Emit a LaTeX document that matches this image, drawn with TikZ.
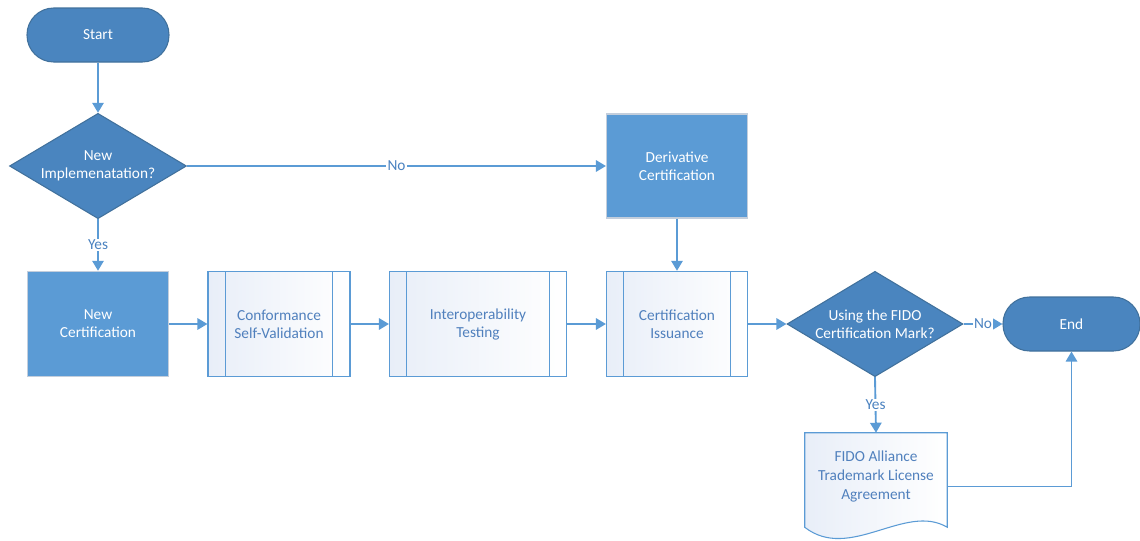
\documentclass[tikz,border=0pt]{standalone}
\usepackage{fontspec}
\setmainfont{Carlito}
\usetikzlibrary{shapes.geometric,arrows.meta,calc}
\definecolor{linec}{HTML}{5B9BD5}
\definecolor{darkfill}{HTML}{4A85BF}
\definecolor{darkbord}{HTML}{41719C}
\definecolor{procfill}{HTML}{5B9BD5}
\definecolor{procbord}{HTML}{C3CEDC}
\definecolor{subbord}{HTML}{5B9BD5}
\definecolor{subtext}{HTML}{5080BD}
\definecolor{lblc}{HTML}{4A82C0}
\definecolor{shadec}{HTML}{E8EEF8}
\tikzset{
  base/.style={font=\fontsize{11.5}{13.5}\selectfont, align=center, inner sep=0pt},
  term/.style={base, rectangle, rounded corners=20pt, draw=darkbord, line width=0.8pt,
    fill=darkfill, text=white, minimum height=40.5pt},
  dec/.style={diamond, draw=darkbord, line width=0.8pt, fill=darkfill, inner sep=0pt,
    minimum width=132.75pt, minimum height=79pt, shape aspect=1.69},
  dectext/.style={base, text=white},
  proc/.style={base, rectangle, draw=procbord, line width=0.8pt, fill=procfill, text=white,
    minimum width=105.75pt, minimum height=79pt},
  sub/.style={base, rectangle, draw=subbord, line width=0.8pt, text=subtext,
    left color=shadec, right color=white, minimum height=79pt,
    path picture={
      \draw[subbord, line width=0.8pt]
        ([xshift=13pt]path picture bounding box.north west) -- ([xshift=13pt]path picture bounding box.south west)
        ([xshift=-13pt]path picture bounding box.north east) -- ([xshift=-13pt]path picture bounding box.south east);
    }},
  conn/.style={draw=linec, line width=1.4pt, -{Triangle[length=7.5pt,width=8.5pt]}},
  lbl/.style={base, fill=white, text=lblc, inner sep=1pt},
}
\begin{document}
\begin{tikzpicture}[x=0.75pt,y=-0.75pt]
\useasboundingbox (0,0) rectangle (1140,540);

% nodes
\node[term, minimum width=106.5pt] (start) at (98,35) {Start};
\node[dec, label={[dectext]center:{New\\Implemenatation?}}] (d1) at (98,166) {};
\node[proc] (newc) at (98,324) {New\\Certification};
\node[sub, minimum width=106.5pt] (conf) at (279,324) {Conformance\\Self-Validation};
\node[sub, minimum width=132.75pt] (inter) at (478,324) {Interoperability\\Testing};
\node[sub, minimum width=105.75pt] (iss) at (677,324) {Certification\\Issuance};
\node[proc, minimum height=78pt] (deriv) at (677,166) {Derivative\\Certification};
\node[dec, minimum width=132pt, label={[dectext]center:{Using the FIDO\\Certification Mark?}}] (d2) at (875,324) {};
\node[term, minimum width=102.75pt] (endn) at (1071.5,324) {End};

% document shape
\node[inner sep=0pt, minimum width=106.5pt, minimum height=80.25pt] (doc) at (876,486.5) {};
\path[draw=subbord, line width=0.8pt, left color=shadec, right color=white]
  ($(doc.south west)+(0,-13)$) -- (doc.north west) -- (doc.north east) -- ($(doc.south east)+(0,-13)$)
  .. controls ($(doc.south east)+(-42,-38)$) and ($(doc.south west)+(45,22)$) .. ($(doc.south west)+(0,-13)$) -- cycle;
\node[base, font=\fontsize{11.5}{14.25}\selectfont, text=subtext] (doctext) at (876,476) {FIDO Alliance\\Trademark License\\Agreement};

% connectors
\draw[conn] (start.south) -- (d1.north);
\draw[conn] (d1.south) -- node[lbl] {Yes} (newc.north);
\draw[conn] (d1.east) -- node[lbl] {No} (deriv.west);
\draw[conn] (deriv.south) -- (iss.north);
\draw[conn] (newc.east) -- (conf.west);
\draw[conn] (conf.east) -- (inter.west);
\draw[conn] (inter.east) -- (iss.west);
\draw[conn] (iss.east) -- (d2.west);
\draw[conn] (d2.east) -- node[lbl] {No} (endn.west);
\draw[conn] (d2.south) -- node[lbl] {Yes} (doc.north);
\draw[conn] (doc.east) -| (endn.south);
\end{tikzpicture}
\end{document}
